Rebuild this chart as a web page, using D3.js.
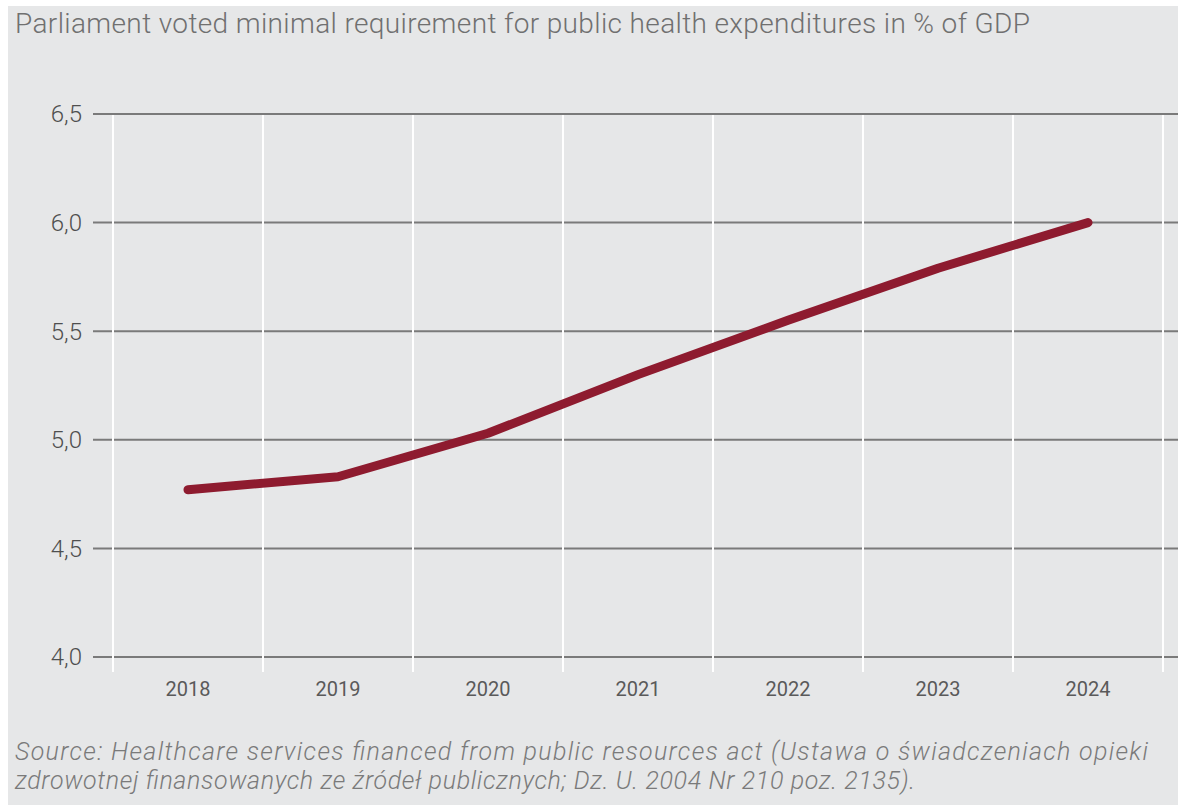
<!DOCTYPE html>
<html>
<head>
<meta charset="utf-8">
<script src="https://cdn.jsdelivr.net/npm/d3@7"></script>
<style>
  html, body { margin: 0; padding: 0; background: #ffffff; }
  svg { display: block; }
</style>
</head>
<body>
<script>
// Minimal public health expenditure requirement, % of GDP
const years = ["2018", "2019", "2020", "2021", "2022", "2023", "2024"];
const shareOfGdp = [4.77, 4.83, 5.03, 5.30, 5.55, 5.79, 6.00];
const yTicks = [4.0, 4.5, 5.0, 5.5, 6.0, 6.5];
const titleText = "Parliament voted minimal requirement for public health expenditures in % of GDP";
const sourceLines = [
  "Source: Healthcare services financed from public resources act (Ustawa o świadczeniach opieki",
  "zdrowotnej finansowanych ze źródeł publicznych; Dz. U. 2004 Nr 210 poz. 2135)."
];
const sourceWidths = [1133, 900];

const W = 1178, H = 805;
const svg = d3.select("body").append("svg").attr("width", W).attr("height", H);

// panel background
svg.append("rect").attr("x", 8).attr("y", 6).attr("width", W - 8).attr("height", H - 6)
  .attr("fill", "#e6e7e8");

const x = d3.scaleBand().domain(years).range([113, 1163]).padding(0);
const y = d3.scaleLinear().domain([4.0, 6.5]).range([657, 114]);

// horizontal grid lines
svg.append("g").selectAll("line").data(yTicks).join("line")
  .attr("x1", 93).attr("x2", W)
  .attr("y1", d => y(d)).attr("y2", d => y(d))
  .attr("stroke", "#7a7a7a").attr("stroke-width", 2);

// vertical separators between years
const edges = years.map(d => x(d)).concat([x(years[years.length - 1]) + x.bandwidth()]);
svg.append("g").selectAll("line").data(edges).join("line")
  .attr("x1", d => d).attr("x2", d => d)
  .attr("y1", y(6.5) + 1).attr("y2", y(4.0) + 15)
  .attr("stroke", "#ffffff").attr("stroke-width", 2);

// y tick labels
svg.append("g").selectAll("text").data(yTicks).join("text")
  .attr("x", 82).attr("y", d => y(d))
  .attr("dy", "0.35em")
  .attr("text-anchor", "end")
  .attr("font-family", "Roboto, sans-serif")
  .attr("font-weight", 300)
  .attr("font-size", 24)
  .attr("fill", "#4f4f4f")
  .text(d => d.toFixed(1).replace(".", ","));

// x tick labels
svg.append("g").selectAll("text").data(years).join("text")
  .attr("x", d => x(d) + x.bandwidth() / 2).attr("y", 696)
  .attr("text-anchor", "middle")
  .attr("font-family", "Roboto, sans-serif")
  .attr("font-size", 20)
  .attr("fill", "#5a5a5a")
  .text(d => d);

// series line
const line = d3.line()
  .x((d, i) => x(years[i]) + x.bandwidth() / 2)
  .y(d => y(d));
svg.append("path").datum(shareOfGdp)
  .attr("d", line)
  .attr("fill", "none")
  .attr("stroke", "#8e1b2f")
  .attr("stroke-width", 9)
  .attr("stroke-linecap", "round")
  .attr("stroke-linejoin", "round");

// title
svg.append("text")
  .attr("x", 15).attr("y", 33)
  .attr("font-family", "Roboto, sans-serif")
  .attr("font-weight", 300)
  .attr("font-size", 28)
  .attr("fill", "#707070")
  .attr("textLength", 1015)
  .attr("lengthAdjust", "spacing")
  .text(titleText);

// source note
svg.append("g").selectAll("text").data(sourceLines).join("text")
  .attr("x", 15).attr("y", (d, i) => 760 + i * 29)
  .attr("font-family", "Roboto, sans-serif")
  .attr("font-weight", 300)
  .attr("font-style", "italic")
  .attr("font-size", 25)
  .attr("fill", "#7a7a7a")
  .attr("textLength", (d, i) => sourceWidths[i])
  .attr("lengthAdjust", "spacing")
  .text(d => d);
</script>
</body>
</html>
